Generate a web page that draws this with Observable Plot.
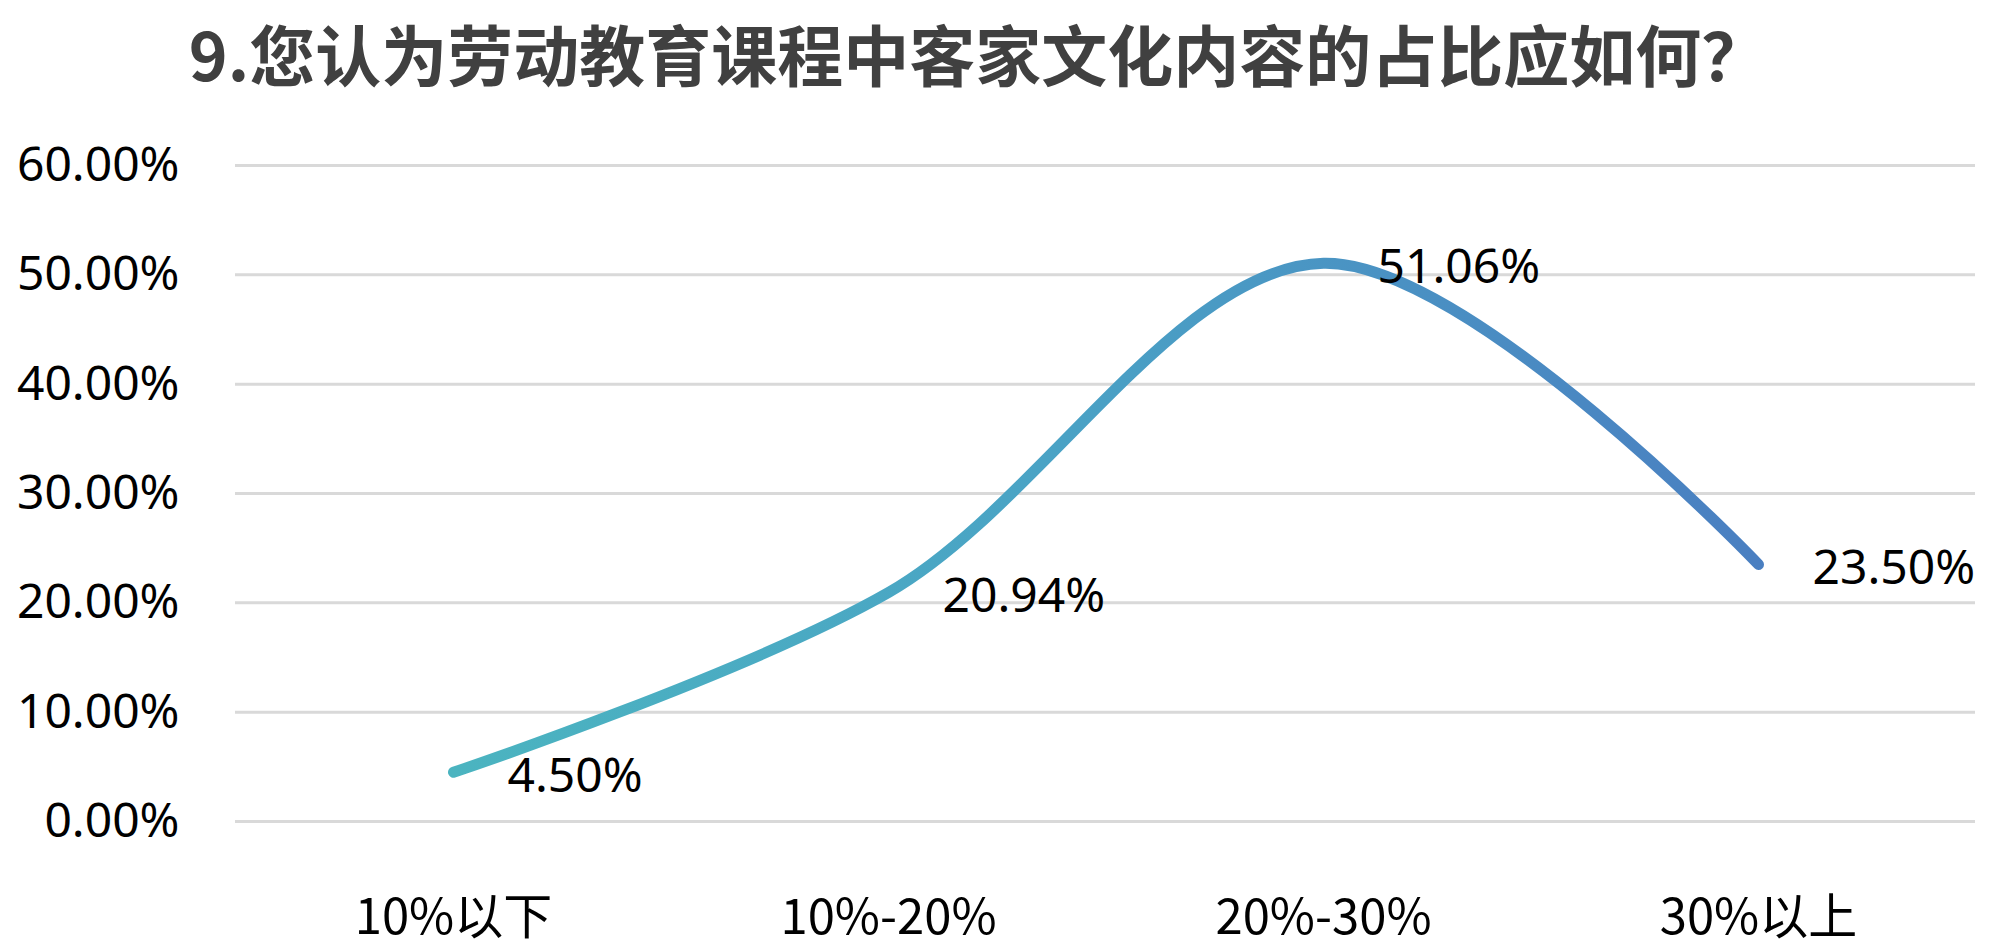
<!DOCTYPE html>
<html>
<head>
<meta charset="utf-8">
<script src="https://cdn.jsdelivr.net/npm/d3@7"></script>
<script src="https://cdn.jsdelivr.net/npm/@observablehq/plot@0.6"></script>
<style>
  html, body { margin: 0; padding: 0; background: #ffffff; }
  #wrap { width: 2000px; height: 952px; position: relative; overflow: hidden; }
  #title {
    position: absolute; left: 0; top: 0; width: 2000px; height: 110px;
    box-sizing: border-box; padding-right: 44px;
    text-align: center; line-height: 104px;
    font-family: "Noto Sans CJK SC", "Noto Sans", sans-serif;
    font-weight: bold; font-size: 66px; color: #404040;
  }
  #chart { position: absolute; left: 0; top: 110px; }
</style>
</head>
<body>
<div id="wrap">
  <div id="title">9.您认为劳动教育课程中客家文化内容的占比应如何？</div>
  <div id="chart"></div>
</div>
<script>
const categories = ["10%以下", "10%-20%", "20%-30%", "30%以上"];
const values = [4.50, 20.94, 51.06, 23.50];
const yTicks = [0, 10, 20, 30, 40, 50, 60];

const data = categories.map((c, i) => ({category: c, value: values[i]}));

const chart = Plot.plot({
  width: 2000,
  height: 842,
  marginTop: 55,
  marginBottom: 131,
  marginLeft: 235,
  marginRight: 25,
  style: {fontFamily: "'Noto Sans', sans-serif", background: "#ffffff", color: "#000000"},
  x: {type: "point", domain: categories, padding: 0.5, label: null},
  y: {domain: [0, 60], label: null},
  marks: [
    Plot.ruleY(yTicks, {stroke: "#d9d9d9", strokeWidth: 3}),
    Plot.axisY(yTicks, {
      tickSize: 0, tickPadding: 56, fontSize: 48, fill: "#000000",
      tickFormat: d => d.toFixed(2) + "%", label: null
    }),
    Plot.axisX({
      tickSize: 0, tickPadding: 78, fontSize: 49, fill: "#000000", label: null,
      fontFamily: "'Noto Sans CJK SC', 'Noto Sans', sans-serif"
    }),
    Plot.line(data, {
      x: "category", y: "value", curve: "catmull-rom",
      stroke: "url(#lineGrad)", strokeWidth: 11, strokeLinecap: "round", strokeLinejoin: "round"
    }),
    Plot.text(data, {
      x: "category", y: "value", text: d => d.value.toFixed(2) + "%",
      textAnchor: "start", dx: 54, dy: 4, fontSize: 48, fill: "#000000"
    })
  ]
});

const defs = d3.select(chart).insert("defs", ":first-child");
const grad = defs.append("linearGradient")
  .attr("id", "lineGrad")
  .attr("x1", "0").attr("y1", "0").attr("x2", "1").attr("y2", "0");
grad.append("stop").attr("offset", "0%").attr("stop-color", "#4bb4c0");
grad.append("stop").attr("offset", "45%").attr("stop-color", "#4aa3c5");
grad.append("stop").attr("offset", "100%").attr("stop-color", "#4a7fc1");

document.getElementById("chart").appendChild(chart);
</script>
</body>
</html>
